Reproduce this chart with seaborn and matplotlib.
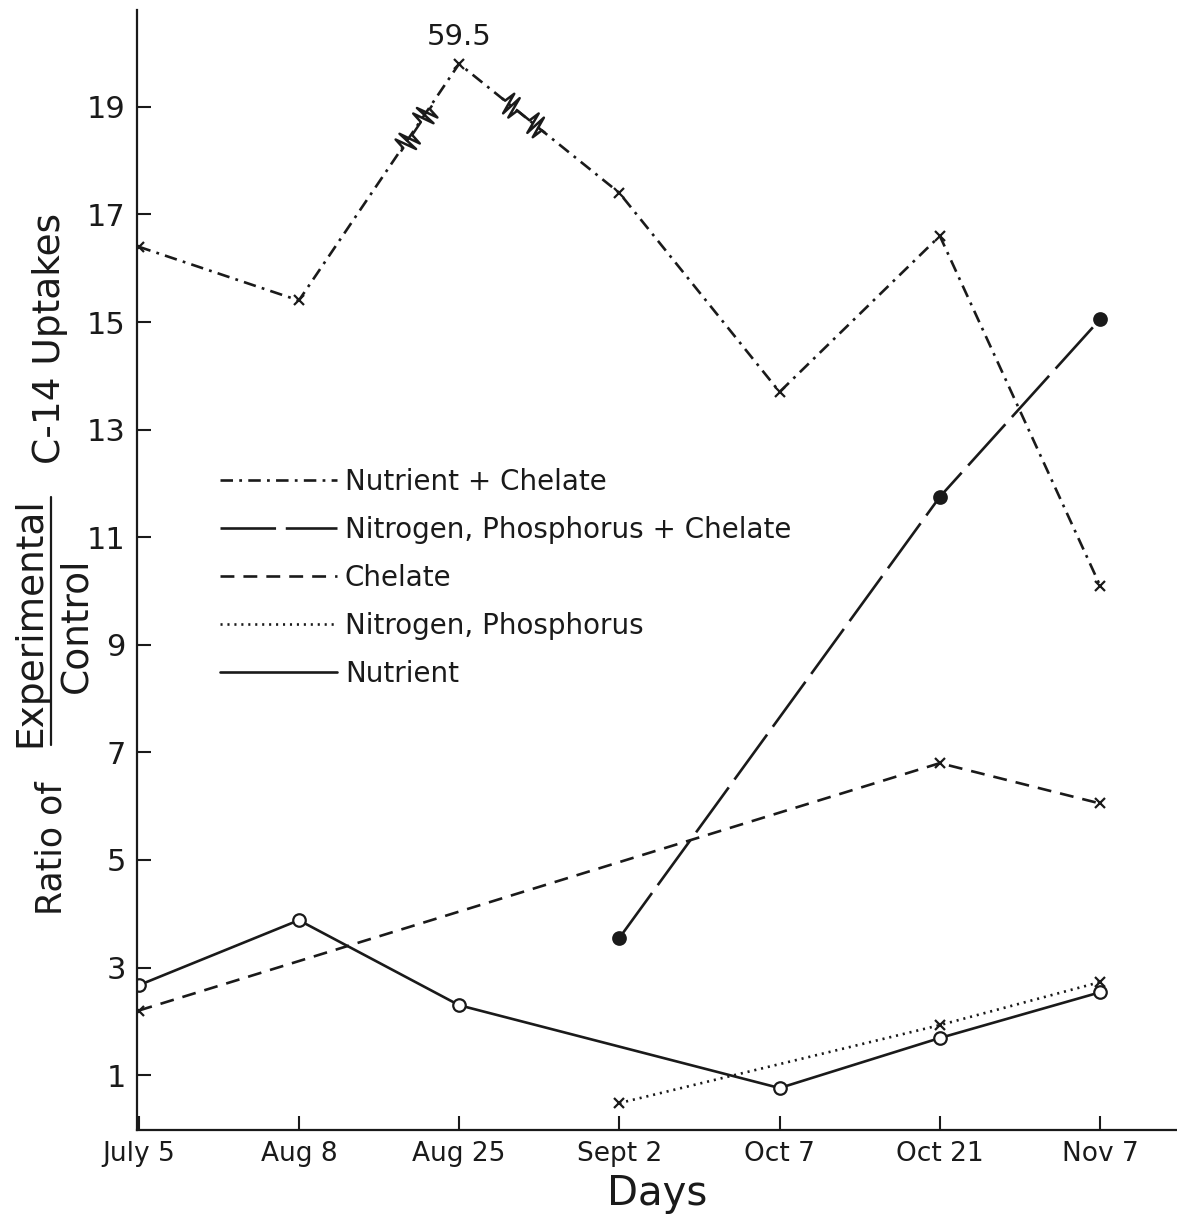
import numpy as np
import pandas as pd
import matplotlib
matplotlib.use('Agg')
import matplotlib.pyplot as plt
import seaborn as sns
from matplotlib.lines import Line2D
from matplotlib.path import Path
from matplotlib.markers import MarkerStyle
from matplotlib.transforms import Affine2D

# data
days = ['July 5', 'Aug 8', 'Aug 25', 'Sept 2', 'Oct 7', 'Oct 21', 'Nov 7']
nutrient_chelate = [16.4, 15.4, 19.8, 17.4, 13.7, 16.6, 10.1]
np_chelate = [np.nan, np.nan, np.nan, 3.55, np.nan, 11.75, 15.05]
chelate = [2.2, np.nan, np.nan, np.nan, np.nan, 6.8, 6.05]
nitro_phos = [np.nan, np.nan, np.nan, 0.48, np.nan, 1.93, 2.73]
nutrient = [2.67, 3.88, 2.3, np.nan, 0.76, 1.69, 2.54]
peak_label = '59.5'
yticks = [1, 3, 5, 7, 9, 11, 13, 15, 17, 19]

sns.set_theme(style='ticks')
plt.rcParams['font.family'] = ['DejaVu Sans']
plt.rcParams['lines.scale_dashes'] = False
plt.rcParams['text.color'] = 'k'
plt.rcParams['axes.labelcolor'] = 'k'

W, H = 1177, 1218
fig = plt.figure(figsize=(W / 100, H / 100), dpi=100)
ax = fig.add_axes([137 / W, (H - 1130) / H, (W - 137) / W, 1120 / H])

xpos = np.arange(len(days))
df = pd.DataFrame({'x': xpos, 'nc': nutrient_chelate, 'npc': np_chelate,
                   'ch': chelate, 'np': nitro_phos, 'nu': nutrient})

series = [
    ('nc', 'Nutrient + Chelate', (0, (9, 4.5, 2, 4.5)), 'x', 'k', 7),
    ('npc', 'Nitrogen, Phosphorus + Chelate', (0, (40, 7)), 'o', 'k', 9),
    ('ch', 'Chelate', (0, (10, 6.5)), 'x', 'k', 7),
    ('np', 'Nitrogen, Phosphorus', (0, (1.5, 3.5)), 'x', 'k', 7),
    ('nu', 'Nutrient', '-', 'o', 'white', 9),
]
handles = []
for col, lab, ls, mk, mfc, ms in series:
    d = df[['x', col]].dropna()
    sns.lineplot(data=d, x='x', y=col, ax=ax, color='k', lw=1.9,
                 marker=mk, markersize=ms, markerfacecolor=mfc,
                 markeredgecolor='k', markeredgewidth=1.6, sort=False)
    ax.lines[-1].set_linestyle(ls)
    handles.append(Line2D([], [], color='k', lw=1.9, linestyle=ls, label=lab))

ax.set_xlim(-0.01, 6.48)
ax.set_ylim(-0.02, 20.8)
ax.set_xticks(xpos)
ax.set_xticklabels(days, fontsize=19)
ax.set_yticks(yticks)
ax.set_yticklabels([str(v) for v in yticks], fontsize=22)
ax.tick_params(direction='in', length=10, width=1.5, pad=8, colors='k')
for s in ['top', 'right']:
    ax.spines[s].set_visible(False)
for s in ['left', 'bottom']:
    ax.spines[s].set_linewidth(1.6)
    ax.spines[s].set_color('k')
ax.set_xlabel('Days', fontsize=29, labelpad=5)
ax.set_ylabel('')

# zigzag break marks on the broken segments of the top line
zz = Path([(-1, 0), (-0.85, 0), (-0.75, 0.4), (-0.62, -0.4), (-0.5, 0.4), (-0.38, -0.4), (-0.28, 0),
           (0.28, 0), (0.38, 0.4), (0.5, -0.4), (0.62, 0.4), (0.75, -0.4), (0.85, 0), (1, 0)])
fig.canvas.draw()
for i0, frac in [(1, 0.73), (2, 0.40)]:
    p0 = ax.transData.transform((xpos[i0], nutrient_chelate[i0]))
    p1 = ax.transData.transform((xpos[i0 + 1], nutrient_chelate[i0 + 1]))
    ang = np.degrees(np.arctan2(p1[1] - p0[1], p1[0] - p0[0]))
    xm = xpos[i0] + frac
    ym = nutrient_chelate[i0] + frac * (nutrient_chelate[i0 + 1] - nutrient_chelate[i0])
    m = MarkerStyle(zz, transform=Affine2D().rotate_deg(ang))
    ax.plot([xm], [ym], marker=m, markersize=40, color='k',
            markerfacecolor='none', markeredgewidth=1.8, linestyle='none')

ax.annotate(peak_label, (xpos[2], nutrient_chelate[2]), xytext=(0, 9),
            textcoords='offset points', ha='center', va='bottom', fontsize=21)

ax.legend(handles=handles, loc='upper left', bbox_to_anchor=((220 - 137) / 1040, (1130 - 468) / 1120),
          frameon=False, fontsize=20, handlelength=4.2, handletextpad=0.3,
          labelspacing=0.72, borderpad=0, borderaxespad=0)

# y label with a fraction
def fx(px):
    return px / W
def fy(py):
    return 1 - py / H
fig.text(fx(52), fy(848), 'Ratio of', rotation=90, ha='center', va='center', fontsize=25)
fig.text(fx(30), fy(622), 'Experimental', rotation=90, ha='center', va='center', fontsize=27)
fig.text(fx(76), fy(625), 'Control', rotation=90, ha='center', va='center', fontsize=27)
fig.add_artist(Line2D([fx(51), fx(51)], [fy(497), fy(745)], color='k', lw=1.6))
fig.text(fx(50), fy(338), 'C-14 Uptakes', rotation=90, ha='center', va='center', fontsize=27)

fig.savefig('out.png', dpi=100)
